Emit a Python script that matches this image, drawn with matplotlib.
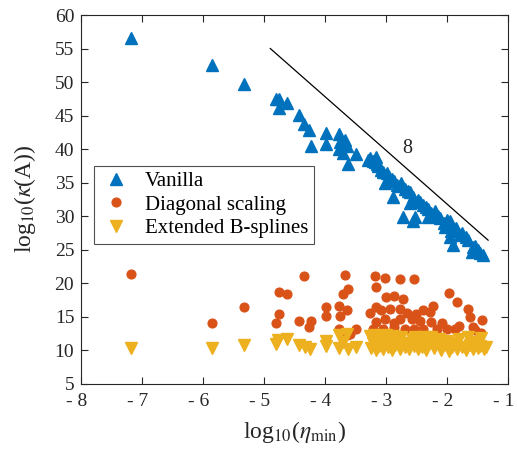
import matplotlib
matplotlib.use('Agg')
from matplotlib import pyplot as plt
from matplotlib.transforms import ScaledTranslation

# Vanilla
van_x = [-7.18, -5.85, -5.33, -4.81, -4.76, -4.63, -4.76, -4.43, -4.35, -4.26, -4.24,
         -3.99, -3.99, -3.78, -3.67, -3.76, -3.64, -3.77, -3.70, -3.49, -3.62, -3.30, -3.17,
         -3.26, -3.22, -3.19, -3.15, -3.13, -3.08, -3.05, -3.02, -2.99, -2.95, -2.91, -2.89,
         -2.87, -2.83, -2.78, -2.75, -2.69, -2.65, -2.61, -2.56, -2.61, -2.48, -2.45, -2.72,
         -2.53, -2.56, -2.39, -2.35, -2.31, -2.26, -2.31, -2.20, -2.15, -2.12, -2.05, -2.01,
         -1.96, -2.04, -1.93, -1.88, -1.85, -1.79, -1.75, -1.96, -1.70, -1.90, -1.66, -1.57,
         -1.55, -1.49, -1.60, -1.46, -1.41]
van_y = [56.6, 52.6, 49.7, 47.5, 47.5, 46.9, 46.1, 45.1, 43.7, 42.9, 40.4,
         42.4, 40.7, 42.2, 41.4, 41.0, 40.5, 40.0, 39.4, 39.3, 37.7, 38.4, 38.8,
         38.6, 38.2, 38.1, 37.8, 37.4, 36.9, 36.6, 34.9, 36.4, 35.9, 35.6, 32.9,
         35.3, 34.6, 34.5, 34.9, 34.1, 33.8, 33.6, 32.9, 31.9, 32.4, 32.1, 29.9,
         29.9, 29.2, 31.6, 31.4, 31.1, 30.4, 29.9, 30.7, 30.0, 29.7, 29.0, 29.4,
         29.2, 28.4, 27.7, 28.0, 28.2, 27.2, 27.5, 26.9, 26.8, 25.7, 26.4, 25.4,
         25.5, 24.9, 24.7, 24.5, 24.2]

# Diagonal scaling
diag_x = [-7.18, -5.85, -5.33, -4.76, -4.63, -4.76, -4.81, -4.34, -4.43, -4.24, -4.26,
          -3.99, -3.99, -3.67, -3.62, -3.71, -3.77, -3.75, -3.65, -3.77, -3.49, -3.60,
          -3.18, -3.02, -2.78, -2.55, -3.17, -3.00, -2.88, -2.72, -1.97, -1.84, -1.66,
          -1.63, -1.43, -1.57, -3.27, -3.17, -3.08, -2.94, -2.78, -2.66, -2.51, -2.40,
          -2.24, -2.28, -3.17, -3.02, -2.87, -2.78, -2.58, -2.45, -2.26, -2.08, -3.21,
          -3.05, -2.87, -2.69, -2.55, -2.39, -2.17, -2.01, -1.87, -1.80, -1.55, -1.45,
          -3.65]
diag_y = [21.3, 14.1, 16.5, 18.6, 18.3, 15.4, 14.1, 21.0, 14.3, 14.4, 13.4,
          16.5, 15.1, 21.2, 19.1, 18.4, 16.6, 15.1, 16.0, 13.1, 13.1, 12.4,
          21.0, 20.8, 20.6, 20.6, 19.4, 17.9, 18.0, 17.6, 18.5, 17.1, 16.2,
          15.0, 14.5, 13.5, 15.6, 16.5, 16.0, 16.1, 16.1, 15.5, 15.4, 16.0,
          16.6, 15.7, 14.2, 14.7, 14.1, 14.6, 14.7, 14.3, 14.2, 14.0, 13.2,
          13.2, 13.5, 13.2, 13.2, 13.2, 13.2, 13.2, 13.2, 13.6, 13.0, 12.6,
          12.2]

# Extended B-splines
ext_x = [-7.18, -5.85, -5.33, -4.81, -4.77, -4.63, -4.43, -4.33, -4.25, -3.99, -3.99,
         -3.78, -3.65, -3.70, -3.77, -3.62, -3.49,
         -3.27, -3.25, -3.22, -3.20, -3.17, -3.15, -3.12, -3.10, -3.05, -3.02, -3.00,
         -2.97, -2.93, -2.90, -2.88, -2.85, -2.80, -2.78, -2.75, -2.70, -2.66, -2.62,
         -2.58, -2.55, -2.52, -2.48, -2.45, -2.42, -2.38, -2.35, -2.30, -2.27, -2.22,
         -2.18, -2.14, -2.10, -2.05, -2.01, -1.97, -1.92, -1.88, -1.84, -1.80, -1.75,
         -1.70, -1.66, -1.62, -1.58, -1.55, -1.50, -1.47, -1.44, -1.40, -1.37]
ext_y = [10.25, 10.25, 10.75, 10.9, 11.5, 11.7, 10.75, 10.4, 10.1, 11.3, 10.6,
         12.2, 12.4, 11.2, 10.25, 10.1, 10.4,
         12.1, 10.3, 11.0, 12.2, 10.0, 11.5, 10.6, 12.0, 10.2, 11.2, 12.2,
         10.5, 11.6, 10.0, 12.1, 10.8, 11.4, 10.1, 11.9, 10.4, 11.0, 10.2,
         11.7, 10.6, 12.0, 10.1, 11.3, 10.5, 11.9, 10.0, 11.1, 12.0, 10.3,
         10.9, 11.6, 10.0, 10.7, 11.3, 9.9, 10.5, 11.0, 10.2, 11.6, 10.4,
         10.0, 12.0, 10.8, 10.1, 11.2, 10.3, 10.6, 11.8, 10.1, 10.5]

# slope 8 reference line
ref_x = [-4.9, -1.33]
ref_y = [55.0, 26.4]

plt.rcParams['font.family'] = ['Liberation Serif', 'DejaVu Serif']
plt.rcParams['mathtext.fontset'] = 'stix'

fig = plt.figure(figsize=(5.17, 4.55), dpi=100)
ax = fig.add_axes([0.157, 0.157, 0.826, 0.810])

ax.plot(van_x, van_y, '^', color='#0072BD', ms=8.5, mec='#0072BD', label='Vanilla')
ax.plot(diag_x, diag_y, 'o', color='#D95319', ms=6.3, mec='#D95319', label='Diagonal scaling')
ax.plot(ext_x, ext_y, 'v', color='#EDB120', ms=8.5, mec='#EDB120', label='Extended B-splines')
ax.plot(ref_x, ref_y, color='black', lw=0.9)
ax.text(-2.66, 40.1, '8', fontsize=14.5, ha='center', va='center', color='#262626')

ax.set_xlim(-8, -1)
ax.set_ylim(5, 60)
ax.set_xticks(range(-8, 0))
ax.set_xticklabels(['- ' + str(-t) for t in range(-8, 0)])
ax.set_yticks(range(5, 61, 5))
ax.tick_params(direction='in', top=True, right=True, labelsize=14, length=5,
               width=0.8, colors='#262626', labelcolor='#262626')
ax.tick_params(axis='x', pad=7)
ax.tick_params(axis='y', pad=5)
# shift x tick labels a little to the left, like the original
shift = ScaledTranslation(-5 / 100, 0, fig.dpi_scale_trans)
for lbl in ax.get_xticklabels():
    lbl.set_transform(lbl.get_transform() + shift)
for s in ax.spines.values():
    s.set_color('#262626')
    s.set_linewidth(0.8)

ax.set_xlabel(r'log$_{10}$($\eta_{\mathrm{min}}$)', fontsize=17, color='#262626', labelpad=6)
ax.set_ylabel(r'log$_{10}$($\kappa$(A))', fontsize=17, color='#262626', labelpad=12)

leg = ax.legend(loc='upper left', bbox_to_anchor=(0.030, 0.590), fontsize=15,
                fancybox=False, edgecolor='#262626', borderaxespad=0, handletextpad=0.6,
                labelspacing=0.2, handlelength=1.6, borderpad=0.25)
leg.get_frame().set_linewidth(0.8)

fig.savefig('out.png', dpi=100)
